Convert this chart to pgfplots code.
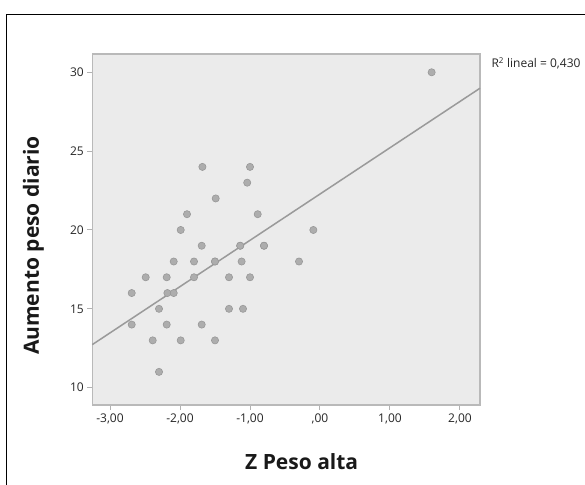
\documentclass[border=0pt]{standalone}
\usepackage{fontspec}
\setmainfont{Open Sans}
\usepackage{pgfplots}
\pgfplotsset{compat=1.18}
\definecolor{bgcol}{HTML}{EBEBEB}
\definecolor{ptfill}{HTML}{ADADAD}
\definecolor{ptdraw}{HTML}{989898}
\definecolor{linecol}{HTML}{9A9A9A}
\begin{document}
\begin{tikzpicture}
\begin{axis}[width=387.7pt, height=351pt, scale only axis,
  xmin=-3.253, xmax=2.286, ymin=8.9, ymax=31.16,
  axis background/.style={fill=bgcol},
  axis line style={draw=gray!55, line width=1.2pt},
  xtick={-3,-2,-1,0,1,2}, xticklabels={{-3,00},{-2,00},{-1,00},{,00},{1,00},{2,00}},
  ytick={10,15,20,25,30},
  xtick pos=bottom, ytick pos=left,
  tick align=outside, major tick length=5pt, tick style={gray!60, line width=1pt},
  tick label style={font=\fontsize{12}{14}\selectfont, text=black!85},
  /pgf/number format/assume math mode=true,
  xlabel={Z Peso alta}, ylabel={Aumento peso diario},
  label style={font=\bfseries\fontsize{21}{24}\selectfont, text=black!90},
  xlabel style={at={(axis description cs:0.540,-0.162)}, anchor=center},
  ylabel style={at={(axis description cs:-0.1517,0.454)}, anchor=center},
  clip=false,
]
\addplot[linecol, line width=1.5pt] coordinates {(-3.253,12.73) (2.286,28.99)};
\addplot[only marks, mark=*, mark size=3.6pt, mark options={fill=ptfill, draw=ptdraw, line width=0.6pt}] coordinates {
(1.595,30) (-1.68,24) (-1.0,24) (-1.04,23) (-1.49,22) (-1.9,21) (-0.89,21)
(-1.99,20) (-0.095,20) (-1.69,19) (-1.14,19) (-1.14,19) (-0.80,19) (-0.80,19)
(-2.09,18) (-1.80,18) (-1.50,18) (-1.50,18) (-1.12,18) (-0.30,18)
(-2.49,17) (-2.19,17) (-1.80,17) (-1.30,17) (-1.0,17)
(-2.69,16) (-2.18,16) (-2.09,16) (-2.30,15) (-1.30,15) (-1.10,15)
(-2.69,14) (-2.19,14) (-1.69,14) (-2.39,13) (-1.99,13) (-1.50,13) (-2.30,11)
};
\node[anchor=west, font=\fontsize{12}{14}\selectfont, text=black!85] at (axis description cs:1.0206,0.974) {R\textsuperscript{2} lineal = 0,430};
\end{axis}
\draw[black, line width=0.9pt] (-86.3pt,-90pt) -- (-86.3pt,391pt) -- (500pt,391pt);
\pgfresetboundingbox
\useasboundingbox (-92.3pt,-79pt) rectangle (492.7pt,405pt);
\end{tikzpicture}
\end{document}
